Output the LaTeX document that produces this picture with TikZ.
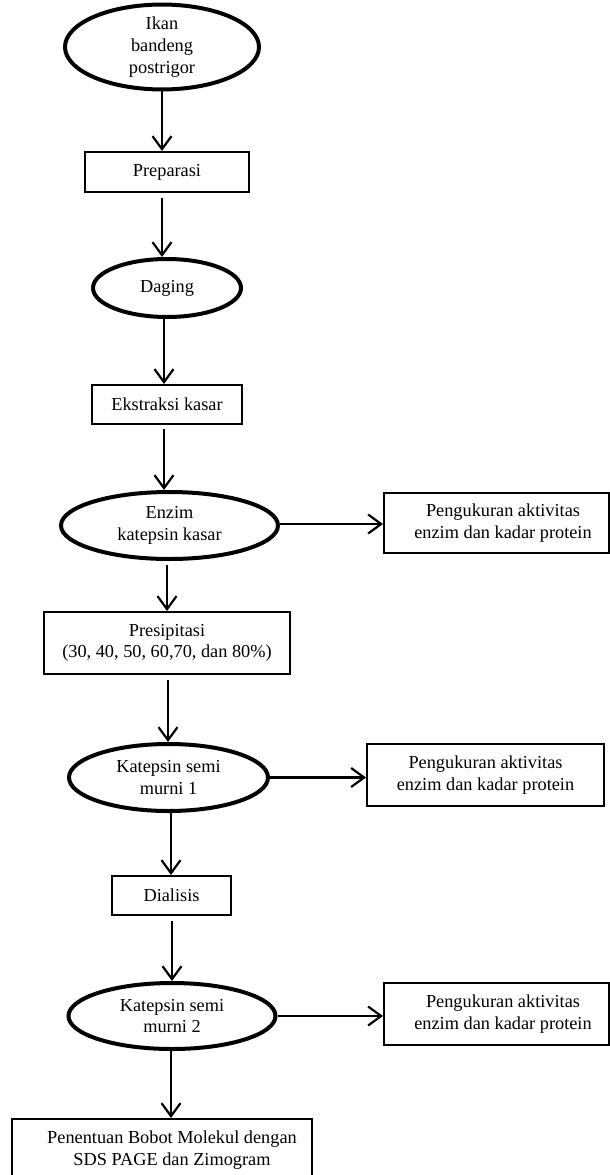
\documentclass[tikz,border=0pt]{standalone}
\usepackage{fontspec}
\setmainfont{Liberation Serif}
\usetikzlibrary{shapes.geometric,arrows.meta}
\begin{document}
\begin{tikzpicture}[x=1pt,y=-1pt,
  every node/.style={font=\fontsize{18.3}{21.7}\selectfont, align=center, inner sep=0pt},
  oval/.style={ellipse, draw, line width=4pt},
  box/.style={rectangle, draw, line width=2pt},
  arr/.style={line width=2.2pt, -{Straight Barb[length=13pt,width=19pt,line width=2.2pt]}}]
\useasboundingbox (0,0) rectangle (610,1175);
\node[oval, minimum width=194pt, minimum height=80pt] (n1) at (162,47) {Ikan\\bandeng\\postrigor};
\node[box, minimum width=164pt, minimum height=40pt] (n2) at (167,172) {Preparasi};
\node[oval, minimum width=148pt, minimum height=58pt] (n3) at (167,288) {Daging};
\node[box, minimum width=150pt, minimum height=39pt] (n4) at (167,404.5) {Ekstraksi kasar};
\node[oval, minimum width=217pt, minimum height=67pt] (n5) at (169.5,525.5) {Enzim\\katepsin kasar};
\node[box, minimum width=225pt, minimum height=60pt] (n6) at (496.5,523) {\hspace*{13pt}Pengukuran aktivitas\\\hspace*{13pt}enzim dan kadar protein};
\node[box, minimum width=246pt, minimum height=62pt] (n7) at (167,643) {Presipitasi\\(30, 40, 50, 60,70, dan 80\%)};
\node[oval, minimum width=199pt, minimum height=67pt] (n8) at (168.5,777.5) {Katepsin semi\\murni 1};
\node[box, minimum width=237pt, minimum height=62pt] (n9) at (485.5,775) {Pengukuran aktivitas\\enzim dan kadar protein};
\node[box, minimum width=119pt, minimum height=39pt] (n10) at (171.5,895.5) {Dialisis};
\node[oval, minimum width=207pt, minimum height=66pt] (n11) at (172,1016) {Katepsin semi\\murni 2};
\node[box, minimum width=225pt, minimum height=62pt] (n12) at (496.5,1014) {\hspace*{13pt}Pengukuran aktivitas\\\hspace*{13pt}enzim dan kadar protein};
\node[box, minimum width=300pt, minimum height=62pt] (n13) at (162,1150) {\hspace*{20pt}Penentuan Bobot Molekul dengan\\\hspace*{20pt}SDS PAGE dan Zimogram};
% vertical arrows
\draw[arr] (n1.south) -- (n1.south |- n2.north);
\draw[arr] ([xshift=-5pt,yshift=-5pt]n2.south) -- ([xshift=-5pt]n2.south |- n3.north);
\draw[arr] ([xshift=-3pt]n3.south) -- ([xshift=-3pt]n3.south |- n4.north);
\draw[arr] ([xshift=-3pt,yshift=-4pt]n4.south) -- ([xshift=-3pt]n4.south |- n5.north);
\draw[arr] ([xshift=-2.5pt,yshift=-4pt]n5.south) -- ([xshift=-2.5pt]n5.south |- n7.north);
\draw[arr] ([xshift=1pt,yshift=-5pt]n7.south) -- ([xshift=1pt]n7.south |- n8.north);
\draw[arr] ([xshift=2.5pt]n8.south) -- ([xshift=2.5pt]n8.south |- n10.north);
\draw[arr] ([xshift=0.5pt,yshift=-5pt]n10.south) -- ([xshift=0.5pt]n10.south |- n11.north);
\draw[arr] ([xshift=-1pt]n11.south) -- ([xshift=-1pt]n11.south |- n13.north);
% horizontal arrows
\draw[arr] ([yshift=1.5pt]n5.east) -- ([yshift=1.5pt]n5.east -| n6.west);
\draw[arr] (n8.east) -- (n8.east -| n9.west);
\draw[arr] (n11.east) -- (n11.east -| n12.west);
\end{tikzpicture}
\end{document}
